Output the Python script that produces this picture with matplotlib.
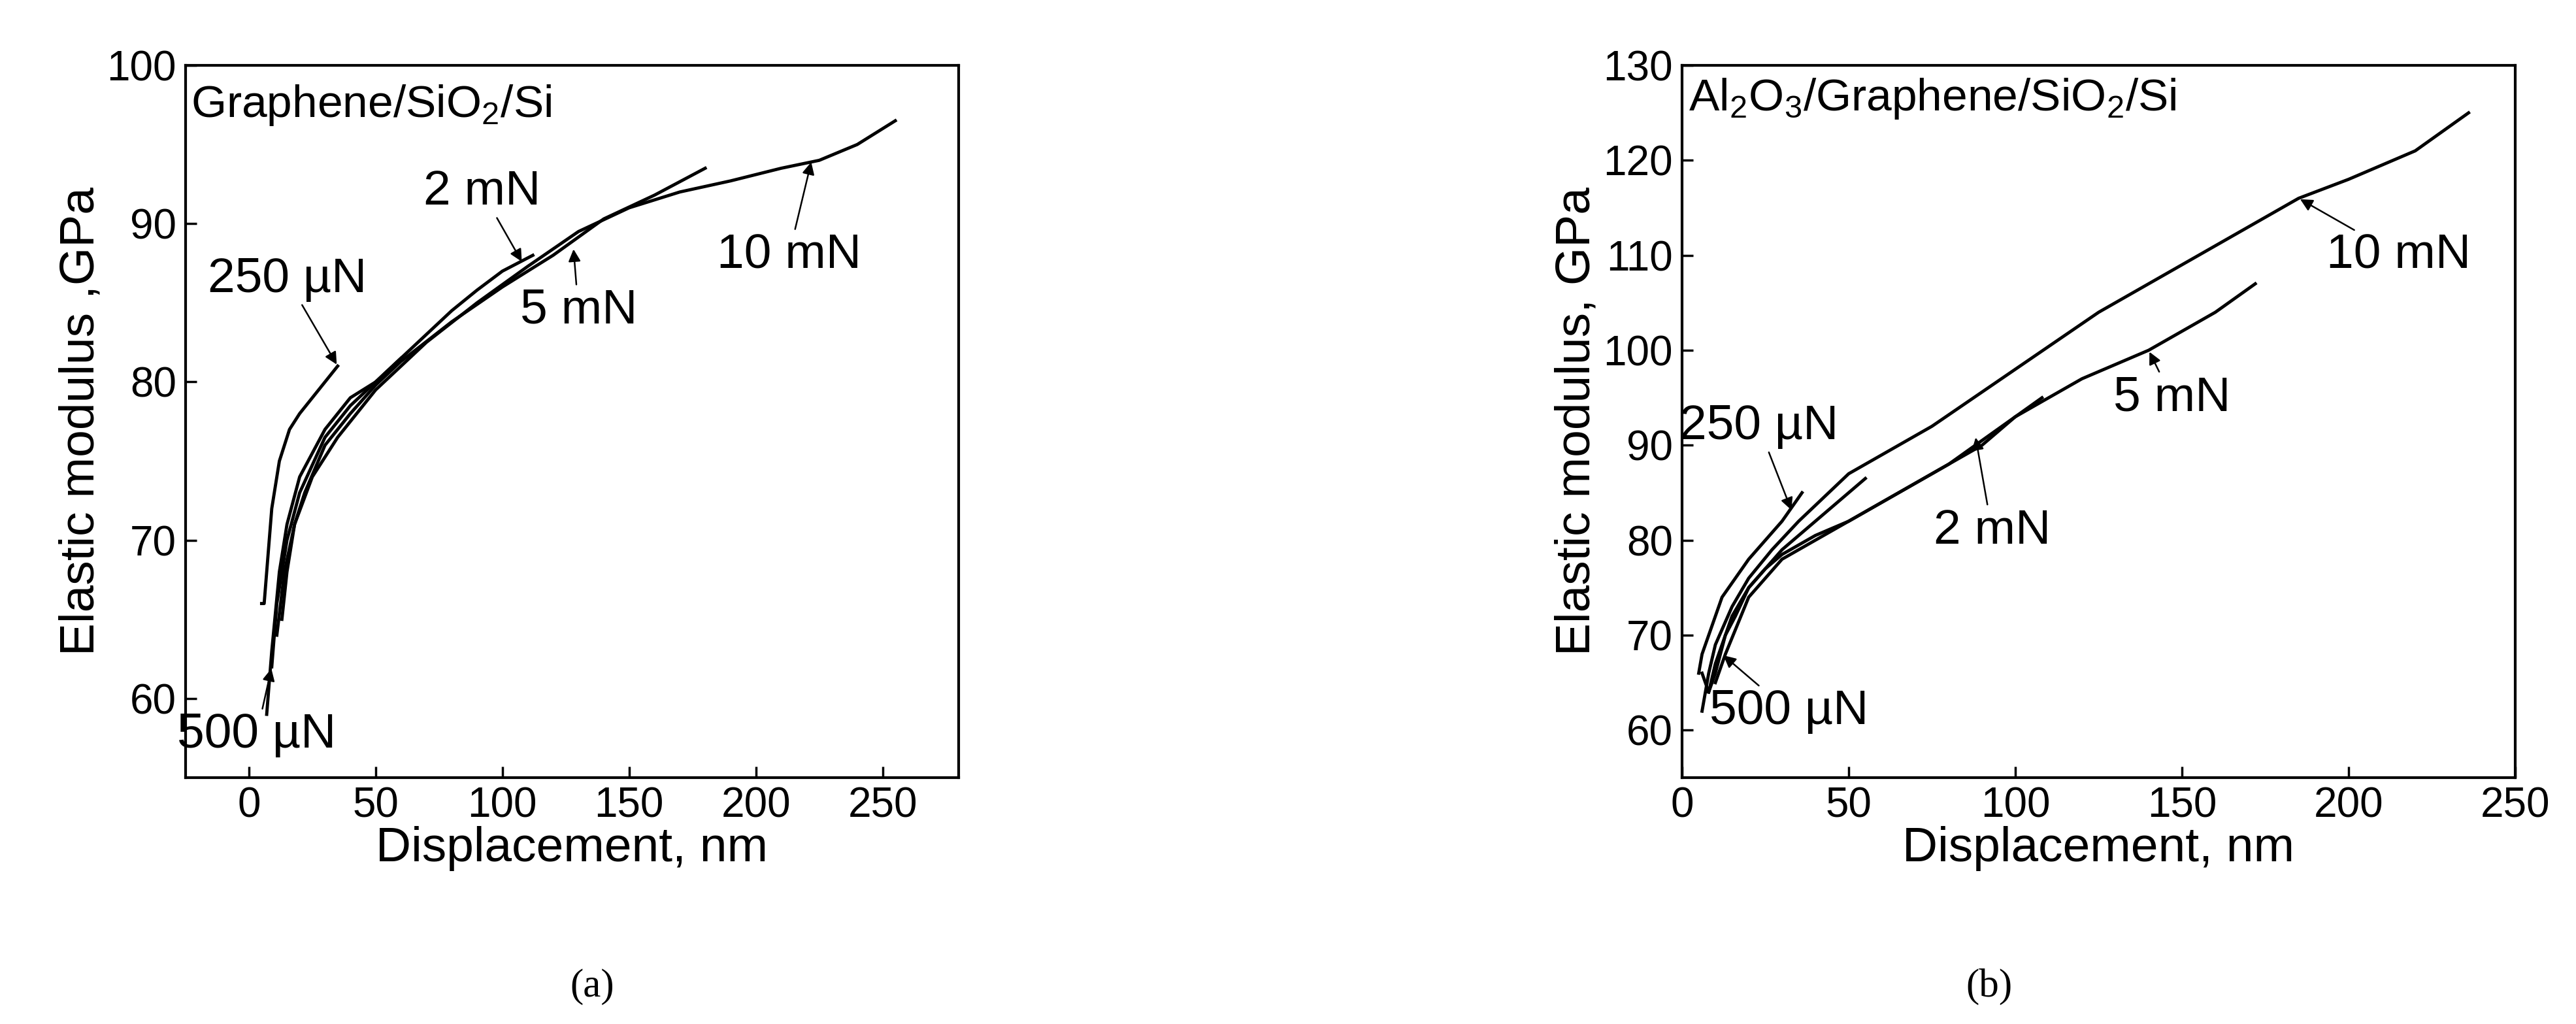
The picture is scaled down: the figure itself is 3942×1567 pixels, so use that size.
import matplotlib
matplotlib.use("Agg")
import matplotlib.pyplot as plt

plt.rcParams['font.family'] = ['Liberation Sans', 'DejaVu Sans']
plt.rcParams['mathtext.fontset'] = 'custom'
plt.rcParams['mathtext.rm'] = 'Liberation Sans'

# Panel (a)
a_250_x = [5, 6, 7, 9, 12, 16, 20, 25, 30, 35]
a_250_y = [66, 66, 68, 72, 75, 77, 78, 79, 80, 81]
a_500_x = [7, 8, 9, 12, 15, 20, 30, 40, 50, 60]
a_500_y = [59, 61, 63, 68, 71, 74, 77, 79, 80, 81.5]
a_2m_x = [9, 11, 15, 20, 30, 40, 50, 60, 70, 80, 90, 100, 112]
a_2m_y = [62, 66, 70, 73, 76.5, 78.5, 80, 81.5, 83, 84.5, 85.8, 87, 88]
a_5m_x = [13, 15, 18, 22, 30, 40, 50, 60, 80, 100, 120, 140, 160, 180]
a_5m_y = [65, 68, 71, 73, 76, 78, 79.8, 81.3, 83.8, 86, 88, 90.3, 91.8, 93.5]
a_10m_x = [11, 14, 18, 25, 35, 50, 70, 90, 110, 130, 150, 170, 190, 210, 225, 240, 255]
a_10m_y = [64, 68, 71, 74, 76.5, 79.5, 82.5, 85, 87.3, 89.5, 91, 92, 92.7, 93.5, 94, 95, 96.5]

# Panel (b)
b_250_x = [5, 6, 8, 12, 16, 20, 25, 30, 36]
b_250_y = [66, 68, 70, 74, 76, 78, 80, 82, 85]
b_500_x = [6, 8, 10, 13, 16, 20, 25, 30, 40, 50, 55]
b_500_y = [66, 64, 66, 70, 72, 75, 77, 79, 82, 85, 86.5]
b_2m_x = [8, 10, 15, 20, 25, 30, 40, 50, 60, 70, 80, 90, 100, 108]
b_2m_y = [64, 67, 72, 75, 77, 78.5, 80.5, 82, 84, 86, 88, 90, 93, 95]
b_5m_x = [10, 13, 20, 30, 40, 60, 80, 100, 120, 140, 160, 172]
b_5m_y = [65, 68, 74, 78, 80, 84, 88, 93, 97, 100, 104, 107]
b_10m_x = [6, 8, 10, 15, 20, 27, 35, 50, 75, 100, 125, 150, 175, 185, 200, 220, 236]
b_10m_y = [62, 66, 69, 73, 76, 79, 82, 87, 92, 98, 104, 109, 114, 116, 118, 121, 125]

fig = plt.figure(figsize=(39.42, 15.67), dpi=100)
ax1 = fig.add_axes([284/3942, 1-1190/1567, 1183/3942, 1090/1567])
ax2 = fig.add_axes([2574/3942, 1-1190/1567, 1275/3942, 1090/1567])

lw = 3.5
for x, y in [(a_250_x, a_250_y), (a_500_x, a_500_y), (a_2m_x, a_2m_y), (a_5m_x, a_5m_y), (a_10m_x, a_10m_y)]:
    ax1.plot(x, y, color='black', lw=lw)
for x, y in [(b_250_x, b_250_y), (b_500_x, b_500_y), (b_2m_x, b_2m_y), (b_5m_x, b_5m_y), (b_10m_x, b_10m_y)]:
    ax2.plot(x, y, color='black', lw=lw)

fs = 54
tfs = 46
for ax in (ax1, ax2):
    ax.tick_params(direction='in', labelsize=tfs, length=12, width=2.5, pad=10)
    for s in ax.spines.values():
        s.set_linewidth(3)
    ax.set_xlabel('Displacement, nm', fontsize=fs, labelpad=0)

ax1.set_xlim(-25, 280); ax1.set_ylim(55, 100)
ax1.set_xticks([0, 50, 100, 150, 200, 250]); ax1.set_yticks([60, 70, 80, 90, 100])
ax1.set_ylabel('Elastic modulus ,GPa', fontsize=fs, labelpad=4)
ax2.set_xlim(0, 250); ax2.set_ylim(55, 130)
ax2.set_xticks([0, 50, 100, 150, 200, 250]); ax2.set_yticks(range(60, 131, 10))
ax2.set_ylabel('Elastic modulus, GPa', fontsize=fs, labelpad=4)

ax1.text(-23, 97.5, 'Graphene/SiO$_2$/Si', fontsize=50, va='center')
ax2.text(2, 126.5, 'Al$_2$O$_3$/Graphene/SiO$_2$/Si', fontsize=50, va='center')

ap = dict(arrowstyle='-|>', color='black', lw=1.8, mutation_scale=28)
def ann(ax, t, xy, xt):
    ax.annotate(t, xy=xy, xytext=xt, fontsize=fs, ha='center', va='center', arrowprops=ap)

ann(ax1, '250 µN', (35, 81), (15, 86.5))
ann(ax1, '500 µN', (9, 62), (3, 57.7))
ann(ax1, '2 mN', (108, 87.5), (92, 92))
ann(ax1, '5 mN', (128, 88.5), (130, 84.5))
ann(ax1, '10 mN', (222, 94), (213, 88))
ann(ax2, '250 µN', (33, 83), (23, 92))
ann(ax2, '500 µN', (12, 68), (32, 62))
ann(ax2, '2 mN', (88, 91), (93, 81))
ann(ax2, '5 mN', (140, 100), (147, 95))
ann(ax2, '10 mN', (185, 116), (215, 110))

fig.text(906/3942, 1-1510/1567, '(a)', fontsize=44, ha='center', va='center', family='Liberation Serif')
fig.text(3044/3942, 1-1510/1567, '(b)', fontsize=44, ha='center', va='center', family='Liberation Serif')
fig.savefig('out.png', dpi=100)
